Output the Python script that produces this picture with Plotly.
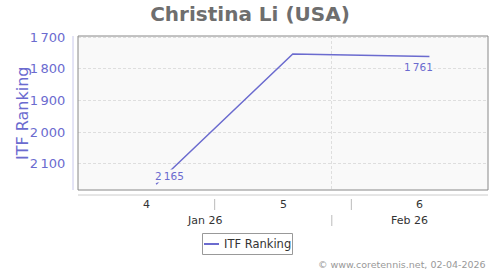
import plotly.graph_objects as go

# ---- data ----
dates = ["2026-01-23", "2026-01-30", "2026-02-06"]
ranking = [2165, 1753, 1761]
label_points = [0, 2]            # indices that carry a data label
y_ticks = [1700, 1800, 1900, 2000, 2100]
week_labels = ["4", "5", "6"]
week_centers = ["2026-01-22 12:00", "2026-01-29 12:00", "2026-02-05 12:00"]
week_bounds = ["2026-01-26", "2026-02-02"]
month_labels = ["Jan 26", "Feb 26"]
month_centers = ["2026-01-25 12:00", "2026-02-05"]
month_bounds = ["2026-02-01"]
x_range = ["2026-01-19", "2026-02-09"]
y_range = [2183, 1696]
series_name = "ITF Ranking"

PURPLE = "#6b6bcf"
FONT = "DejaVu Sans"
W, H = 410, 154  # plot area size in px
L, T = 78, 36

def fmt(v):
    s = f"{v:,}"
    return s.replace(",", "\u2009")

def px_x(px):
    return (px - L) / W

def px_y(py):
    return (T + H - py) / H

fig = go.Figure()
fig.add_trace(go.Scatter(
    x=dates, y=ranking, mode="lines", name=series_name, showlegend=False,
    line=dict(color=PURPLE, width=1.5), hoverinfo="x+y"))

fig.update_layout(
    width=500, height=270,
    margin=dict(l=L, r=500 - L - W, t=T, b=270 - T - H),
    paper_bgcolor="white", plot_bgcolor="#f9f9f9",
    font=dict(family=FONT, color="#333"),
    title=dict(text="<b>Christina Li (USA)</b>", x=0.5, xref="container",
               xanchor="center", y=1 - 14 / 270, yref="container", yanchor="middle",
               font=dict(size=20, color="#6e6e6e", family=FONT)),
    showlegend=False,
    xaxis=dict(type="date", range=x_range, showticklabels=False,
               tickvals=month_bounds, showgrid=True, gridcolor="#dedede",
               griddash="3px,2px", gridwidth=1, zeroline=False, showline=False,
               ticks=""),
    yaxis=dict(range=y_range, tickvals=y_ticks, ticktext=[fmt(v) for v in y_ticks],
               showgrid=True, gridcolor="#dedede", griddash="3px,2px", gridwidth=1,
               zeroline=False, showline=False, ticks="outside", ticklen=9,
               tickcolor="rgba(0,0,0,0)",
               tickfont=dict(size=13, color=PURPLE, family=FONT)),
)

shapes = []
# plot border
shapes.append(dict(type="rect", xref="x domain", yref="y domain", x0=0, x1=1, y0=0, y1=1,
                   line=dict(color="#888", width=1), layer="above"))
# offset y axis line
shapes.append(dict(type="line", xref="paper", yref="paper",
                   x0=px_x(73), x1=px_x(73), y0=0, y1=1,
                   line=dict(color="#c8c8ec", width=1)))
# offset x axis line
shapes.append(dict(type="line", xref="paper", yref="paper",
                   x0=0, x1=1, y0=px_y(195), y1=px_y(195),
                   line=dict(color="#ccc", width=1)))
for b in week_bounds:
    shapes.append(dict(type="line", xref="x", yref="paper", x0=b, x1=b,
                       y0=px_y(199), y1=px_y(210),
                       line=dict(color="#bbb", width=1)))
for b in month_bounds:
    shapes.append(dict(type="line", xref="x", yref="paper", x0=b, x1=b,
                       y0=px_y(215), y1=px_y(226),
                       line=dict(color="#bbb", width=1)))
# legend box + symbol
shapes.append(dict(type="rect", xref="paper", yref="paper",
                   x0=px_x(202.5), x1=px_x(292.5), y0=px_y(233.5), y1=px_y(254.5),
                   line=dict(color="#999", width=1), fillcolor="white"))
shapes.append(dict(type="line", xref="paper", yref="paper",
                   x0=px_x(204), x1=px_x(219), y0=px_y(244), y1=px_y(244),
                   line=dict(color=PURPLE, width=2)))
fig.update_layout(shapes=shapes)

ann = []
for c, t in zip(week_centers, week_labels):
    ann.append(dict(x=c, xref="x", y=px_y(204), yref="paper", text=t,
                    showarrow=False, xanchor="center", yanchor="middle",
                    font=dict(size=11, color="#333", family=FONT)))
for c, t in zip(month_centers, month_labels):
    ann.append(dict(x=c, xref="x", y=px_y(220), yref="paper", text=t,
                    showarrow=False, xanchor="center", yanchor="middle",
                    font=dict(size=11, color="#333", family=FONT)))
shifts = {0: (13, 8), 2: (-11, -10)}
for i in label_points:
    dx, dy = shifts[i]
    ann.append(dict(x=dates[i], y=ranking[i], xref="x", yref="y", text=fmt(ranking[i]),
                    showarrow=False, xanchor="center", yanchor="middle",
                    xshift=dx, yshift=dy, bgcolor="#f9f9f9", borderpad=0,
                    font=dict(size=10.5, color=PURPLE, family=FONT)))
ann.append(dict(x=px_x(22), xref="paper", y=0.5, yref="paper", text=series_name,
                textangle=-90, showarrow=False, xanchor="center", yanchor="middle",
                font=dict(size=16, color=PURPLE, family=FONT)))
ann.append(dict(x=px_x(222), xref="paper", xanchor="left", y=px_y(244), yref="paper",
                yanchor="middle", text=series_name, showarrow=False,
                font=dict(size=11.5, color="#333", family=FONT)))
ann.append(dict(x=1, xref="paper", xanchor="right", y=px_y(264), yref="paper",
                yanchor="middle", text="\u00a9 www.coretennis.net, 02-04-2026",
                showarrow=False, font=dict(size=9.5, color="#999", family=FONT)))
fig.update_layout(annotations=ann)

fig.write_html("out.html")
